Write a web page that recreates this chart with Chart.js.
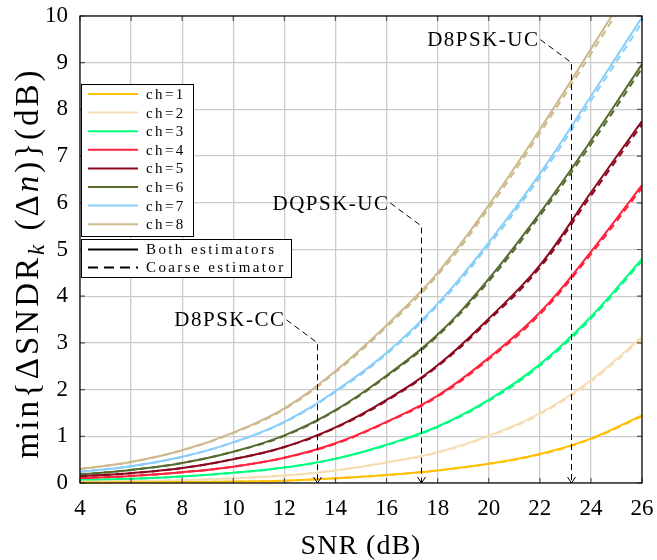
<!DOCTYPE html>
<html>
<head>
<meta charset="utf-8">
<script src="https://cdn.jsdelivr.net/npm/chart.js@4.4.1/dist/chart.umd.min.js"></script>
<style>
html, body { margin: 0; padding: 0; background: #fff; }
canvas { display: block; }
</style>
</head>
<body>
<canvas id="sndrChart" width="657" height="560"></canvas>
<script>
const snrDb = [4, 6, 8, 10, 12, 14, 16, 18, 20, 22, 24, 26];

const xTickValues = [4, 6, 8, 10, 12, 14, 16, 18, 20, 22, 24, 26];
const yTickValues = [0, 1, 2, 3, 4, 5, 6, 7, 8, 9, 10];

const channelLabels = ["ch=1", "ch=2", "ch=3", "ch=4", "ch=5", "ch=6", "ch=7", "ch=8"];
const channelColors = [
    "rgb(255,191,0)",
    "rgb(245,222,179)",
    "rgb(0,255,127)",
    "rgb(255,35,60)",
    "rgb(140,8,30)",
    "rgb(85,107,47)",
    "rgb(135,206,250)",
    "rgb(205,185,140)"
];

// min ΔSNDR (dB) with both estimators
const both1 = [0.01, 0.015, 0.02, 0.03, 0.05, 0.10, 0.17, 0.27, 0.41, 0.62, 0.95, 1.45];
const both2 = [0.03, 0.04, 0.06, 0.10, 0.16, 0.27, 0.44, 0.66, 1.01, 1.49, 2.20, 3.13];
const both3 = [0.06, 0.09, 0.14, 0.22, 0.33, 0.52, 0.82, 1.21, 1.78, 2.54, 3.56, 4.80];
const both4 = [0.10, 0.15, 0.23, 0.35, 0.54, 0.85, 1.31, 1.87, 2.68, 3.65, 4.95, 6.38];
const both5 = [0.14, 0.21, 0.32, 0.51, 0.77, 1.19, 1.78, 2.52, 3.52, 4.66, 6.22, 7.75];
const both6 = [0.18, 0.28, 0.43, 0.67, 1.02, 1.56, 2.30, 3.18, 4.37, 5.78, 7.33, 8.97];
const both7 = [0.24, 0.36, 0.56, 0.87, 1.31, 1.97, 2.79, 3.84, 5.15, 6.62, 8.28, 9.97];
const both8 = [0.30, 0.45, 0.70, 1.08, 1.60, 2.40, 3.38, 4.50, 5.95, 7.57, 9.29, 11.05];

// min ΔSNDR (dB) with the coarse estimator only
const coarse1 = [0.01, 0.015, 0.02, 0.03, 0.05, 0.10, 0.17, 0.27, 0.41, 0.61, 0.94, 1.43];
const coarse2 = [0.03, 0.04, 0.06, 0.10, 0.16, 0.27, 0.44, 0.65, 1.00, 1.47, 2.17, 3.09];
const coarse3 = [0.06, 0.09, 0.14, 0.22, 0.33, 0.52, 0.81, 1.20, 1.76, 2.51, 3.52, 4.75];
const coarse4 = [0.10, 0.15, 0.23, 0.35, 0.54, 0.84, 1.30, 1.85, 2.65, 3.61, 4.90, 6.32];
const coarse5 = [0.14, 0.21, 0.32, 0.51, 0.77, 1.18, 1.76, 2.50, 3.48, 4.61, 6.15, 7.68];
const coarse6 = [0.18, 0.28, 0.43, 0.67, 1.01, 1.55, 2.28, 3.15, 4.32, 5.72, 7.25, 8.88];
const coarse7 = [0.24, 0.36, 0.56, 0.87, 1.30, 1.95, 2.76, 3.80, 5.09, 6.55, 8.19, 9.86];
const coarse8 = [0.30, 0.45, 0.70, 1.07, 1.58, 2.37, 3.34, 4.45, 5.88, 7.49, 9.19, 10.93];

const bothSeries = [both1, both2, both3, both4, both5, both6, both7, both8];
const coarseSeries = [coarse1, coarse2, coarse3, coarse4, coarse5, coarse6, coarse7, coarse8];

// modulation thresholds marked on the SNR axis
const markerSnr = [13.26, 17.33, 23.23];
const markerTop = [3.0, 5.5, 9.0];
const markerLabels = ["D8PSK-CC", "DQPSK-UC", "D8PSK-UC"];

const serif = '"Liberation Serif", "DejaVu Serif", serif';

function toPoints(values) {
    return snrDb.map((x, i) => ({ x: x, y: values[i] }));
}

const datasets = [];
bothSeries.forEach((s, i) => {
    datasets.push({
        label: channelLabels[i],
        data: toPoints(s),
        borderColor: channelColors[i],
        borderWidth: 2,
        pointRadius: 0,
        tension: 0.4,
        clip: { left: 2, top: 0, right: 0, bottom: 2 }
    });
});
coarseSeries.forEach((s, i) => {
    datasets.push({
        label: channelLabels[i] + " coarse",
        data: toPoints(s),
        borderColor: channelColors[i],
        borderWidth: 2,
        borderDash: [7, 5],
        pointRadius: 0,
        tension: 0.4,
        clip: { left: 2, top: 0, right: 0, bottom: 2 }
    });
});

const overlayPlugin = {
    id: "overlay",
    afterDatasetsDraw(chart) {
        const ctx = chart.ctx;
        const xs = chart.scales.x;
        const ys = chart.scales.y;
        const bottom = chart.chartArea.bottom;

        // dashed threshold markers with leader lines
        ctx.save();
        ctx.strokeStyle = "#000";
        ctx.lineWidth = 1;
        ctx.setLineDash([6, 4]);
        ctx.font = "21px " + serif;
        ctx.letterSpacing = "1.5px";
        ctx.fillStyle = "#000";
        ctx.textAlign = "right";
        ctx.textBaseline = "middle";
        markerSnr.forEach((snr, i) => {
            const px = Math.round(xs.getPixelForValue(snr)) + 0.5;
            const py = ys.getPixelForValue(markerTop[i]);
            const lx = px - 31;
            const ly = py - 23;
            ctx.beginPath();
            ctx.moveTo(lx, ly);
            ctx.lineTo(px, py);
            ctx.lineTo(px, bottom);
            ctx.stroke();
            ctx.setLineDash([]);
            ctx.beginPath();
            ctx.moveTo(px - 4, bottom - 6);
            ctx.lineTo(px, bottom);
            ctx.lineTo(px + 4, bottom - 6);
            ctx.stroke();
            ctx.setLineDash([6, 4]);
            ctx.fillText(markerLabels[i], lx - 1, ly + 1);
        });
        ctx.restore();
    },
    afterDraw(chart) {
        const ctx = chart.ctx;
        const ca = chart.chartArea;
        const xs = chart.scales.x;
        const ys = chart.scales.y;

        // inward tick marks on all four sides
        ctx.save();
        ctx.strokeStyle = "#555";
        ctx.lineWidth = 1.2;
        xTickValues.forEach(v => {
            const px = xs.getPixelForValue(v);
            ctx.beginPath();
            ctx.moveTo(px, ca.bottom); ctx.lineTo(px, ca.bottom - 5);
            ctx.moveTo(px, ca.top); ctx.lineTo(px, ca.top + 5);
            ctx.stroke();
        });
        yTickValues.forEach(v => {
            const py = ys.getPixelForValue(v);
            ctx.beginPath();
            ctx.moveTo(ca.left, py); ctx.lineTo(ca.left + 5, py);
            ctx.moveTo(ca.right, py); ctx.lineTo(ca.right - 5, py);
            ctx.stroke();
        });
        ctx.strokeStyle = "#000";
        ctx.lineWidth = 1.2;
        ctx.strokeRect(ca.left, ca.top, ca.right - ca.left, ca.bottom - ca.top);
        ctx.restore();

        // channel legend
        ctx.save();
        ctx.font = "15px " + serif;
        ctx.letterSpacing = "2.4px";
        ctx.textBaseline = "middle";
        const bx = ca.left + 1;
        const by = ca.top + 68;
        ctx.fillStyle = "#fff";
        ctx.fillRect(bx, by, 112, 152);
        ctx.strokeStyle = "#000";
        ctx.lineWidth = 1;
        ctx.strokeRect(bx + 0.5, by + 0.5, 112, 152);
        for (let i = 0; i < 8; i++) {
            const ry = by + 10 + i * 18.6;
            ctx.strokeStyle = channelColors[i];
            ctx.lineWidth = 2;
            ctx.beginPath();
            ctx.moveTo(bx + 7, ry);
            ctx.lineTo(bx + 57, ry);
            ctx.stroke();
            ctx.fillStyle = "#000";
            ctx.fillText(channelLabels[i], bx + 65, ry + 1);
        }

        // estimator legend
        const ey = ca.top + 223;
        ctx.fillStyle = "#fff";
        ctx.fillRect(bx, ey, 210, 38);
        ctx.strokeStyle = "#000";
        ctx.lineWidth = 1;
        ctx.strokeRect(bx + 0.5, ey + 0.5, 210, 38);
        const estLabels = ["Both estimators", "Coarse estimator"];
        const estDash = [[], [10, 6]];
        estLabels.forEach((t, i) => {
            const ry = ey + 10.5 + i * 18;
            ctx.strokeStyle = "#000";
            ctx.lineWidth = 2;
            ctx.setLineDash(estDash[i]);
            ctx.beginPath();
            ctx.moveTo(bx + 7, ry);
            ctx.lineTo(bx + 57, ry);
            ctx.stroke();
            ctx.setLineDash([]);
            ctx.fillStyle = "#000";
            ctx.fillText(t, bx + 65, ry + 1);
        });
        ctx.restore();

        // axis titles
        ctx.save();
        ctx.fillStyle = "#000";
        ctx.font = "28px " + serif;
        ctx.letterSpacing = "1px";
        ctx.textAlign = "center";
        ctx.textBaseline = "alphabetic";
        ctx.fillText("SNR (dB)", (ca.left + ca.right) / 2, 554);
        ctx.restore();

        ctx.save();
        ctx.fillStyle = "#000";
        ctx.translate(38, 263);
        ctx.rotate(-Math.PI / 2);
        const size = 33;
        const parts = [
            { t: "min{ΔSNDR", f: size + "px " + serif, dy: 0 },
            { t: "k", f: "italic " + Math.round(size * 0.7) + "px " + serif, dy: 6 },
            { t: " (Δ", f: size + "px " + serif, dy: 0 },
            { t: "n", f: "italic " + size + "px " + serif, dy: 0 },
            { t: ")}(dB)", f: size + "px " + serif, dy: 0 }
        ];
        ctx.letterSpacing = "3px";
        let total = 0;
        parts.forEach(p => { ctx.font = p.f; p.w = ctx.measureText(p.t).width; total += p.w; });
        let cx = -total / 2;
        ctx.textBaseline = "alphabetic";
        parts.forEach(p => {
            ctx.font = p.f;
            ctx.fillText(p.t, cx, p.dy);
            cx += p.w;
        });
        ctx.restore();
    }
};

new Chart(document.getElementById("sndrChart"), {
    type: "line",
    data: { datasets: datasets },
    options: {
        responsive: false,
        animation: false,
        devicePixelRatio: 1,
        layout: { padding: { top: 16, right: 15, left: 0, bottom: 0 } },
        plugins: {
            legend: { display: false },
            tooltip: { enabled: false }
        },
        scales: {
            x: {
                type: "linear",
                min: 4,
                max: 26,
                afterBuildTicks: s => { s.ticks = xTickValues.map(v => ({ value: v })); },
                afterFit: s => {
                    s.height = 77;
                    s.paddingLeft = 0;
                    s.paddingRight = 0;
                },
                border: { display: false },
                grid: { color: "rgb(204,204,204)", lineWidth: 1.3, drawTicks: false },
                ticks: {
                    padding: 12,
                    color: "#000",
                    font: { family: serif, size: 23 },
                    maxRotation: 0
                }
            },
            y: {
                type: "linear",
                min: 0,
                max: 10,
                afterBuildTicks: s => { s.ticks = yTickValues.map(v => ({ value: v })); },
                afterFit: s => {
                    s.width = 80;
                    s.paddingTop = 0;
                    s.paddingBottom = 0;
                },
                border: { display: false },
                grid: { color: "rgb(204,204,204)", lineWidth: 1.3, drawTicks: false },
                ticks: {
                    padding: 12,
                    color: "#000",
                    font: { family: serif, size: 23 }
                }
            }
        }
    },
    plugins: [overlayPlugin]
});
</script>
</body>
</html>
